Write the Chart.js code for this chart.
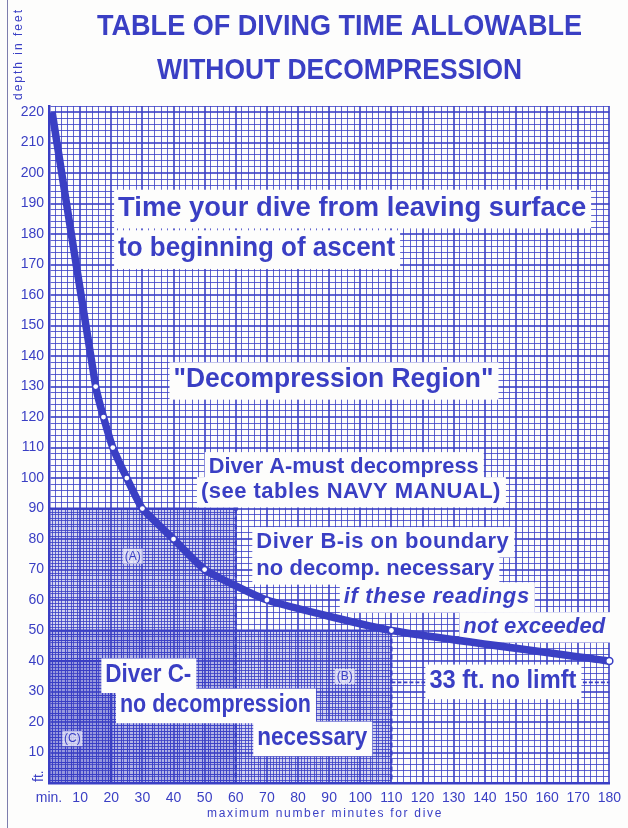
<!DOCTYPE html>
<html>
<head>
<meta charset="utf-8">
<script src="https://cdn.jsdelivr.net/npm/chart.js@4.4.1/dist/chart.umd.min.js"></script>
<style>
  html, body { margin: 0; padding: 0; background: #fdfdfc; }
  canvas { display: block; }
</style>
</head>
<body>
<canvas id="dive-chart" width="628" height="828"></canvas>
<script>
// No-decompression limit curve: bottom time (min) for each depth (ft)
const minutes = [1, 15, 17.5, 20.5, 25, 30, 40, 50, 70, 110, 180];
const depthFt = [220, 130, 120, 110, 100, 90, 80, 70, 60, 50, 40];
const dotted  = [false, true, true, true, true, true, true, true, true, true, true];

// tick labels every 10 units ('ft.' at zero is drawn turned on its side)
const xTickLabels = ['min.', '10', '20', '30', '40', '50', '60', '70', '80', '90',
  '100', '110', '120', '130', '140', '150', '160', '170', '180'];
const yTickLabels = ['', '10', '20', '30', '40', '50', '60', '70', '80', '90', '100',
  '110', '120', '130', '140', '150', '160', '170', '180', '190', '200', '210', '220'];

// example dive regions (A, B, C): time limit and depth limit
const regionNames = ['A', 'B', 'C'];
const regionMinutes = [60, 110, 20];
const regionDepth = [90, 50, 40];

// "33 ft. no limit" line
const noLimitDepth = 33;

const INK = '#3a3fc4';
const FONT = "'Liberation Sans', Arial, sans-serif";

// text labels placed in data units (left edge in minutes, baseline in feet)
const notes = [
  { text: 'Time your dive from leaving surface', x: 22.2, y: 186, w: 468, fs: 28 },
  { text: 'to beginning of ascent', x: 22.2, y: 172.7, w: 277, fs: 28 },
  { text: '"Decompression Region"', x: 40, y: 129.7, w: 320, fs: 27 },
  { text: 'Diver A-must decompress', x: 51.3, y: 101.8, w: 270, fs: 22 },
  { text: '(see tables NAVY MANUAL)', x: 48.8, y: 93.6, w: 300, fs: 22 },
  { text: 'Diver B-is on boundary', x: 66.6, y: 77.2, w: 253, fs: 22 },
  { text: 'no decomp. necessary', x: 66.6, y: 68.3, w: 238, fs: 22 },
  { text: 'if these readings', x: 94.7, y: 59.1, w: 186, fs: 22, italic: true },
  { text: 'not exceeded', x: 133.1, y: 49.3, w: 142, fs: 22, italic: true },
  { text: '33 ft. no limft', x: 122.2, y: 31.2, w: 147, fs: 25 },
  { text: 'Diver C-', x: 18.1, y: 33.2, w: 86, fs: 25 },
  { text: 'no decompression', x: 22.8, y: 23.3, w: 191, fs: 25 },
  { text: 'necessary', x: 66.9, y: 12.5, w: 110, fs: 25 }
];
const smallNotes = [
  { text: '(A)', x: 26.9, y: 74.2 },
  { text: '(B)', x: 95, y: 34.8 },
  { text: '(C)', x: 7.5, y: 14.4 }
];

// draw text stretched or squeezed to a given width
function fitText(ctx, text, x, y, width) {
  ctx.letterSpacing = '0px';
  const w = ctx.measureText(text).width;
  if (w < width && 'letterSpacing' in ctx) {
    ctx.letterSpacing = ((width - w) / text.length) + 'px';
  }
  ctx.fillText(text, x, y, width);
  ctx.letterSpacing = '0px';
}

const crisp = (p) => Math.round(p) + 0.5;

const paperPlugin = {
  id: 'paper',
  beforeDraw(chart) {
    const ctx = chart.ctx;
    ctx.save();
    ctx.fillStyle = '#fdfdfc';
    ctx.fillRect(0, 0, chart.width, chart.height);
    // edge of the scanned sheet
    ctx.strokeStyle = 'rgba(70,70,140,0.7)';
    ctx.lineWidth = 1;
    ctx.beginPath();
    ctx.moveTo(7.5, 0);
    ctx.lineTo(7.5, chart.height);
    ctx.stroke();
    ctx.restore();
  },
  beforeDatasetsDraw(chart) {
    const { ctx, scales: { x, y } } = chart;
    ctx.save();

    // denser graph paper inside the dive regions
    regionNames.forEach((name, i) => {
      const x0 = x.getPixelForValue(0), x1 = x.getPixelForValue(regionMinutes[i]);
      const y0 = y.getPixelForValue(0), y1 = y.getPixelForValue(regionDepth[i]);
      ctx.fillStyle = 'rgba(58,63,196,0.22)';
      ctx.fillRect(x0, y1, x1 - x0, y0 - y1);
      ctx.strokeStyle = 'rgba(58,63,196,0.8)';
      ctx.lineWidth = 1;
      ctx.beginPath();
      for (let m = 1; m < regionMinutes[i]; m += 2) {
        const px = crisp(x.getPixelForValue(m));
        ctx.moveTo(px, y1);
        ctx.lineTo(px, y0);
      }
      for (let d = 1; d < regionDepth[i]; d += 2) {
        const py = crisp(y.getPixelForValue(d));
        ctx.moveTo(x0, py);
        ctx.lineTo(x1, py);
      }
      ctx.stroke();

      // region outline: heavy top, dashed right side
      ctx.strokeStyle = INK;
      ctx.lineWidth = 2.2;
      ctx.beginPath();
      ctx.moveTo(x0, y1);
      ctx.lineTo(x1, y1);
      ctx.stroke();
      ctx.setLineDash(name === 'C' ? [] : [5, 3]);
      ctx.beginPath();
      ctx.moveTo(x1, y1);
      ctx.lineTo(x1, y0);
      ctx.stroke();
      ctx.setLineDash([]);
    });

    // dot at top of diver A line
    ctx.fillStyle = INK;
    ctx.beginPath();
    ctx.arc(x.getPixelForValue(regionMinutes[0]), y.getPixelForValue(regionDepth[0]), 2.5, 0, Math.PI * 2);
    ctx.fill();

    // 33 ft dashed marker
    const py33 = y.getPixelForValue(noLimitDepth);
    ctx.strokeStyle = INK;
    ctx.lineWidth = 1.6;
    ctx.setLineDash([4, 2]);
    ctx.beginPath();
    ctx.moveTo(x.getPixelForValue(110), py33);
    ctx.lineTo(x.getPixelForValue(121), py33);
    ctx.moveTo(x.getPixelForValue(171.5), py33);
    ctx.lineTo(x.getPixelForValue(180), py33);
    ctx.stroke();
    ctx.setLineDash([]);

    // boxed labels
    notes.forEach(n => {
      const px = x.getPixelForValue(n.x);
      const py = y.getPixelForValue(n.y);
      ctx.fillStyle = '#fdfdfc';
      ctx.fillRect(px - 4, py - n.fs * 0.93, n.w + 9, n.fs * 1.38);
      ctx.fillStyle = INK;
      ctx.font = (n.italic ? 'italic ' : '') + 'bold ' + n.fs + 'px ' + FONT;
      ctx.textBaseline = 'alphabetic';
      ctx.textAlign = 'left';
      fitText(ctx, n.text, px, py, n.w);
    });

    smallNotes.forEach(n => {
      const px = x.getPixelForValue(n.x);
      const py = y.getPixelForValue(n.y);
      ctx.font = '12px ' + FONT;
      ctx.fillStyle = 'rgba(240,240,250,0.75)';
      ctx.fillRect(px - 10, py - 8, 20, 15);
      ctx.fillStyle = INK;
      ctx.textAlign = 'center';
      ctx.textBaseline = 'middle';
      ctx.fillText(n.text, px, py);
    });
    ctx.restore();
  },
  afterDraw(chart) {
    const ctx = chart.ctx;
    const area = chart.chartArea;
    ctx.save();
    ctx.fillStyle = INK;
    ctx.textAlign = 'left';
    ctx.textBaseline = 'alphabetic';
    // title
    ctx.font = 'bold 30px ' + FONT;
    fitText(ctx, 'TABLE OF DIVING TIME ALLOWABLE', 97, 35, 485);
    fitText(ctx, 'WITHOUT DECOMPRESSION', 157, 79, 365);

    // axis titles
    ctx.font = '12px ' + FONT;
    fitText(ctx, 'maximum number minutes for dive', 207, 817, 236);

    // 'ft.' unit at the foot of the depth axis, turned sideways
    ctx.save();
    ctx.font = '14px ' + FONT;
    ctx.translate(area.left - 6, area.bottom - 1);
    ctx.rotate(-Math.PI / 2);
    ctx.fillText('ft.', 0, 0);
    ctx.restore();

    ctx.translate(22, 100);
    ctx.rotate(-Math.PI / 2);
    fitText(ctx, 'depth in feet', 0, 0, 92);
    ctx.restore();
  }
};

const gridWidth = (c) => (c.tick && c.tick.value % 10 === 0 ? 2 : 1);

new Chart(document.getElementById('dive-chart'), {
  type: 'line',
  data: {
    datasets: [{
      label: 'no decompression limit',
      data: minutes.map((m, i) => ({ x: m, y: depthFt[i] })),
      borderColor: INK,
      borderWidth: 7.5,
      tension: 0.15,
      pointRadius: minutes.map((m, i) => (dotted[i] ? (i === minutes.length - 1 ? 3.5 : 2.4) : 0)),
      pointBackgroundColor: '#ffffff',
      pointBorderColor: INK,
      pointBorderWidth: minutes.map((m, i) => (i === minutes.length - 1 ? 1.5 : 0)),
      clip: false
    }]
  },
  options: {
    responsive: false,
    animation: false,
    layout: { padding: { top: 106, right: 3, bottom: 0, left: 0 } },
    plugins: {
      legend: { display: false },
      tooltip: { enabled: false }
    },
    scales: {
      x: {
        type: 'linear',
        min: 0,
        max: 180,
        afterFit: (s) => { s.height = 45; },
        border: { color: INK, width: 2.5 },
        grid: { color: 'rgba(58,63,196,0.8)', lineWidth: gridWidth, drawTicks: false },
        ticks: {
          stepSize: 2,
          autoSkip: false,
          maxRotation: 0,
          padding: 7,
          color: INK,
          font: { size: 14, family: FONT },
          callback: (v) => (v % 10 === 0 ? xTickLabels[v / 10] : '')
        }
      },
      y: {
        type: 'linear',
        min: 0,
        max: 222,
        afterFit: (s) => { s.width = 49; },
        border: { color: INK, width: 2.5 },
        grid: { color: 'rgba(58,63,196,0.8)', lineWidth: gridWidth, drawTicks: false },
        ticks: {
          stepSize: 2,
          autoSkip: false,
          padding: 5,
          color: INK,
          font: { size: 14, family: FONT },
          callback: (v) => (v % 10 === 0 ? yTickLabels[v / 10] : '')
        }
      }
    }
  },
  plugins: [paperPlugin]
});
</script>
</body>
</html>
